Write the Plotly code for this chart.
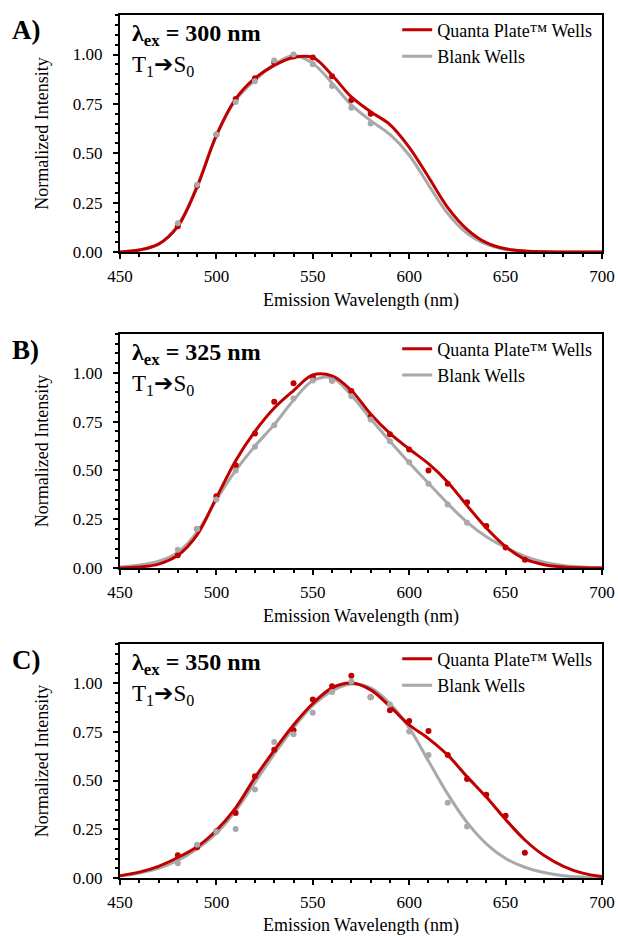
import plotly.graph_objects as go
from plotly.subplots import make_subplots

# ---------------- data ----------------
curve_wl = [450, 460, 470, 480, 490, 500, 510, 520, 530, 540, 550, 560, 570,
            580, 590, 600, 610, 620, 630, 640, 650, 660, 670, 680, 690, 700]

# Panel A (lambda_ex = 300 nm)
a_red_curve = [0.0, 0.01, 0.04, 0.13, 0.33, 0.59, 0.775, 0.88, 0.945, 0.985, 0.985, 0.895, 0.785,
               0.71, 0.645, 0.53, 0.38, 0.225, 0.115, 0.047, 0.016, 0.005, 0.001, 0.0, 0.0, 0.0]
a_gray_curve = [0.0, 0.01, 0.04, 0.135, 0.335, 0.59, 0.77, 0.87, 0.95, 0.995, 0.955, 0.855, 0.745,
                0.665, 0.595, 0.49, 0.34, 0.195, 0.095, 0.04, 0.013, 0.004, 0.001, 0.0, 0.0, 0.0]
a_pts_wl = [480, 490, 500, 510, 520, 530, 540, 550, 560, 570, 580]
a_red_pts = [0.13, 0.335, 0.595, 0.775, 0.88, 0.96, 0.99, 0.985, 0.89, 0.77, 0.70]
a_gray_pts = [0.145, 0.34, 0.595, 0.76, 0.865, 0.97, 1.0, 0.95, 0.84, 0.73, 0.65]

# Panel B (lambda_ex = 325 nm)
b_red_curve = [0.0, 0.005, 0.02, 0.065, 0.17, 0.36, 0.55, 0.70, 0.82, 0.91, 0.99, 0.985, 0.91,
               0.79, 0.69, 0.61, 0.535, 0.44, 0.32, 0.205, 0.11, 0.045, 0.017, 0.005, 0.001, 0.0]
b_gray_curve = [0.005, 0.015, 0.035, 0.08, 0.185, 0.35, 0.50, 0.625, 0.735, 0.86, 0.96, 0.975, 0.885,
                0.765, 0.65, 0.54, 0.435, 0.33, 0.235, 0.16, 0.105, 0.06, 0.03, 0.013, 0.005, 0.001]
b_red_wl = [480, 490, 500, 510, 520, 530, 540, 550, 560, 570, 580, 590, 600, 610, 620, 630, 640, 650, 660]
b_red_pts = [0.066, 0.20, 0.368, 0.527, 0.69, 0.853, 0.947, 0.978, 0.961, 0.907, 0.775, 0.686, 0.608,
             0.50, 0.432, 0.337, 0.215, 0.105, 0.042]
b_gray_wl = [480, 490, 500, 510, 520, 530, 540, 550, 560, 570, 580, 590, 600, 610, 620, 630]
b_gray_pts = [0.093, 0.20, 0.351, 0.50, 0.622, 0.732, 0.869, 0.961, 0.961, 0.88, 0.761, 0.65, 0.542,
              0.432, 0.325, 0.232]

# Panel C (lambda_ex = 350 nm)
c_red_curve = [0.012, 0.03, 0.06, 0.105, 0.16, 0.245, 0.36, 0.515, 0.655, 0.785, 0.895, 0.975, 1.0,
               0.965, 0.88, 0.785, 0.715, 0.63, 0.52, 0.415, 0.30, 0.195, 0.115, 0.06, 0.025, 0.007]
c_gray_curve = [0.01, 0.025, 0.05, 0.09, 0.15, 0.23, 0.345, 0.49, 0.635, 0.77, 0.885, 0.96, 0.995,
                0.975, 0.895, 0.77, 0.60, 0.43, 0.285, 0.175, 0.10, 0.055, 0.028, 0.012, 0.005, 0.002]
c_red_wl = [480, 490, 500, 510, 520, 530, 540, 550, 560, 570, 580, 590, 600, 610, 620, 630, 640, 650, 660]
c_red_pts = [0.117, 0.158, 0.24, 0.334, 0.522, 0.658, 0.758, 0.915, 0.983, 1.037, 0.927, 0.861, 0.805,
             0.754, 0.631, 0.508, 0.427, 0.319, 0.129]
c_gray_wl = [480, 490, 500, 510, 520, 530, 540, 550, 560, 570, 580, 590, 600, 610, 620, 630]
c_gray_pts = [0.076, 0.17, 0.237, 0.251, 0.454, 0.698, 0.737, 0.847, 0.954, 1.008, 0.927, 0.89, 0.751,
              0.631, 0.386, 0.264]

panel_labels = ["A)", "B)", "C)"]
excitations = ["300", "325", "350"]
series_names = ["Quanta Plate™ Wells", "Blank Wells"]
x_ticks = [450, 500, 550, 600, 650, 700]
y_ticks = [0.0, 0.25, 0.5, 0.75, 1.0]

# ---------------- figure ----------------
RED = "#C00000"
GRAY = "#A9A9A9"
FONT = "Liberation Serif"

panels = [
    (a_red_curve, a_gray_curve, a_pts_wl, a_red_pts, a_pts_wl, a_gray_pts),
    (b_red_curve, b_gray_curve, b_red_wl, b_red_pts, b_gray_wl, b_gray_pts),
    (c_red_curve, c_gray_curve, c_red_wl, c_red_pts, c_gray_wl, c_gray_pts),
]

fig = make_subplots(rows=3, cols=1)

legend_keys = ["legend", "legend2", "legend3"]
for i, (rc, gc, rwl, rp, gwl, gp) in enumerate(panels):
    row = i + 1
    lg = legend_keys[i]
    fig.add_trace(go.Scatter(x=curve_wl, y=gc, mode="lines", name=series_names[1],
                             line=dict(color=GRAY, width=3, shape="spline", smoothing=1.0),
                             legend=lg, legendrank=2), row=row, col=1)
    fig.add_trace(go.Scatter(x=curve_wl, y=rc, mode="lines", name=series_names[0],
                             line=dict(color=RED, width=3, shape="spline", smoothing=1.0),
                             legend=lg, legendrank=1), row=row, col=1)
    fig.add_trace(go.Scatter(x=rwl, y=rp, mode="markers", showlegend=False,
                             marker=dict(color=RED, size=6)), row=row, col=1)
    fig.add_trace(go.Scatter(x=gwl, y=gp, mode="markers", showlegend=False,
                             marker=dict(color=GRAY, size=6)), row=row, col=1)

# plot-area geometry (paper fractions)
y_domains = [[0.7254, 1.0], [0.3592, 0.6304], [0.0, 0.2711]]
label_y = [0.9826, 0.6118, 0.2526]

axis_common = dict(showline=True, linecolor="black", linewidth=2, mirror=True,
                   ticks="outside", tickcolor="black", tickwidth=2, ticklen=5,
                   showgrid=False, zeroline=False,
                   tickfont=dict(family=FONT, size=17, color="black"))

for i in range(3):
    xa = "xaxis" if i == 0 else f"xaxis{i+1}"
    ya = "yaxis" if i == 0 else f"yaxis{i+1}"
    fig.layout[xa].update(dict(domain=[0, 1], range=[450, 700], tickvals=x_ticks,
                               ticklabelstandoff=3,
                               minor=dict(ticks="outside", dtick=10, tick0=450, ticklen=3,
                                          tickwidth=1.5, tickcolor="black"),
                               title=dict(text="Emission Wavelength (nm)", standoff=8,
                                          font=dict(family=FONT, size=18, color="black")),
                               automargin=False, **axis_common))
    fig.layout[ya].update(dict(domain=y_domains[i], range=[0, 1.2], tickvals=y_ticks,
                               tickformat=".2f", ticklabelstandoff=7,
                               minor=dict(ticks="outside", dtick=0.05, tick0=0, ticklen=3,
                                          tickwidth=1.5, tickcolor="black"),
                               title=dict(text="Normalized Intensity", standoff=20,
                                          font=dict(family=FONT, size=18, color="black")),
                               automargin=False, **axis_common))

    xd = "x domain" if i == 0 else f"x{i+1} domain"
    yd = "y domain" if i == 0 else f"y{i+1} domain"
    fig.add_annotation(xref=xd, yref=yd, x=0.02, y=0.915, xanchor="left", yanchor="middle",
                       text=f"<b>λ<sub>ex</sub> = {excitations[i]} nm</b>", showarrow=False,
                       font=dict(family=FONT, size=24, color="black"))
    fig.add_annotation(xref=xd, yref=yd, x=0.02, y=0.785, xanchor="left", yanchor="middle",
                       text="T<sub>1</sub><span style='font-family:DejaVu Sans'>➔</span>S<sub>0</sub>",
                       showarrow=False,
                       font=dict(family=FONT, size=23, color="black"))
    fig.add_annotation(xref="paper", yref="paper", x=-0.228, y=label_y[i], xanchor="left",
                       yanchor="middle", text=f"<b>{panel_labels[i]}</b>", showarrow=False,
                       font=dict(family=FONT, size=27, color="black"))

legend_common = dict(xanchor="right", yanchor="top", bgcolor="rgba(0,0,0,0)",
                     font=dict(family=FONT, size=18, color="black"),
                     tracegroupgap=0, itemwidth=30)
fig.update_layout(
    legend=dict(x=0.99, y=1.004, **legend_common),
    legend2=dict(x=0.99, y=0.6344, **legend_common),
    legend3=dict(x=0.99, y=0.2751, **legend_common),
)

fig.update_layout(width=618, height=936, plot_bgcolor="white", paper_bgcolor="white",
                  margin=dict(l=120, r=16, t=15, b=58),
                  font=dict(family=FONT, color="black"))

fig.write_html("out.html", config={"displayModeBar": False},
               post_script="document.body.style.margin='0';document.body.style.overflow='hidden';")
